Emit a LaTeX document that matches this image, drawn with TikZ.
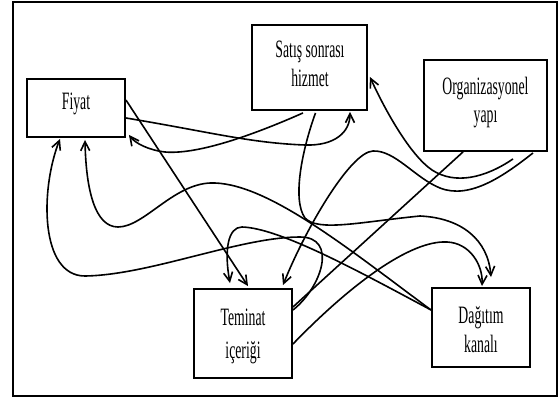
\documentclass[tikz,border=0pt]{standalone}
\usepackage{fontspec}
\newfontfamily\boxfont{Liberation Serif}[FakeStretch=0.55]
\usetikzlibrary{arrows.meta}
\begin{document}
\begin{tikzpicture}[x=1pt,y=-1pt,
  box/.style={draw, line width=1.9pt, rectangle, inner sep=0pt},
  lbl/.style={font=\boxfont\fontsize{25}{29}\selectfont, anchor=base, inner sep=0pt},
  conn/.style={line width=1.6pt},
  arr/.style={conn, -{Straight Barb[length=9pt,width=9pt]}}]
\useasboundingbox (0,0) rectangle (559,401);
\draw[line width=1.5pt] (13,2) rectangle (557,396);

\node[box, minimum width=98pt, minimum height=58pt] (fiyat) at (76,108) {};
\node[box, minimum width=115pt, minimum height=85pt] (satis) at (309.5,67.5) {};
\node[box, minimum width=123pt, minimum height=91pt] (org) at (485.5,105.5) {};
\node[box, minimum width=98pt, minimum height=89pt] (teminat) at (243,333.5) {};
\node[box, minimum width=98pt, minimum height=79pt] (dagitim) at (481,327.5) {};

\node[lbl] (fiyat-t) at (76,110) {Fiyat};
\node[lbl] (satis-t1) at (310,58) {Satış sonrası};
\node[lbl] (satis-t2) at (310,87) {hizmet};
\node[lbl] (org-t1) at (485.5,95) {Organizasyonel};
\node[lbl] (org-t2) at (485.5,123) {yapı};
\node[lbl] (teminat-t1) at (243,325) {Teminat};
\node[lbl] (teminat-t2) at (243,358) {içeriği};
\node[lbl] (dagitim-t1) at (481,323) {Dağıtım};
\node[lbl] (dagitim-t2) at (481,352) {kanalı};

% Fiyat -> Teminat
\draw[arr] ([yshift=8pt]fiyat.east) -- ([xshift=5pt,yshift=2pt]teminat.north);
% Fiyat -> Satis
\draw[arr] ([yshift=-10pt]fiyat.east) .. controls (210,132) and (250,143) .. (305,145)
  .. controls (335,146) and (350,132) .. ([xshift=40.5pt,yshift=-1pt]satis.south);
% Satis -> Fiyat
\draw[arr] ([xshift=-6.5pt,yshift=-2pt]satis.south) .. controls (260,132) and (200,155) .. (165,152)
  .. controls (148,150) and (135,143) .. ([xshift=3pt,yshift=3pt]fiyat.south east);
% Satis -> Dagitim
\draw[arr] ([xshift=6pt,yshift=-2pt]satis.south) .. controls (302,150) and (292,200) .. (305,218)
  .. controls (318,232) and (360,222) .. (420,216)
  .. controls (462,218) and (488,240) .. ([xshift=10pt,yshift=10pt]dagitim.north);
% Org -> Satis
\draw[arr] ([xshift=27.5pt,yshift=-7pt]org.south) .. controls (485,178) and (455,185) .. (432,170)
  .. controls (410,155) and (385,110) .. ([xshift=2pt,yshift=-9.5pt]satis.east);
% Org -> Teminat (wave)
\draw[arr] ([xshift=47.5pt,yshift=-1pt]org.south) .. controls (505,175) and (470,200) .. (440,188)
  .. controls (415,178) and (395,150) .. (373,151)
  .. controls (350,152) and (305,230) .. ([xshift=40pt,yshift=3pt]teminat.north);
% Org -- Teminat (straight)
\draw[conn] ([xshift=-22.5pt]org.south) -- ([yshift=26.5pt]teminat.east);
% Teminat -> Dagitim
\draw[arr] ([yshift=-10.5pt]teminat.east) .. controls (350,285) and (410,240) .. (447,242)
  .. controls (470,243) and (483,265) .. ([xshift=1pt,yshift=1pt]dagitim.north);
% Teminat -> Fiyat
\draw[arr] ([yshift=23.5pt]teminat.east) .. controls (322,287) and (338,237) .. (300,237)
  .. controls (240,237) and (150,275) .. (85,276)
  .. controls (40,276) and (40,190) .. ([xshift=-16pt,yshift=-1pt]fiyat.south);
% Dagitim -> Fiyat
\draw[arr] ([yshift=17.5pt]dagitim.west) .. controls (350,250) and (270,185) .. (215,183)
  .. controls (175,181) and (145,227) .. (118,227)
  .. controls (95,227) and (86,190) .. ([xshift=9pt,yshift=-2pt]fiyat.south);
% Dagitim -> Teminat
\draw[arr] ([yshift=17.5pt]dagitim.west) .. controls (360,272) and (280,228) .. (242,227)
  .. controls (228,227) and (224,250) .. ([xshift=-13pt,yshift=5pt]teminat.north);
\end{tikzpicture}
\end{document}
